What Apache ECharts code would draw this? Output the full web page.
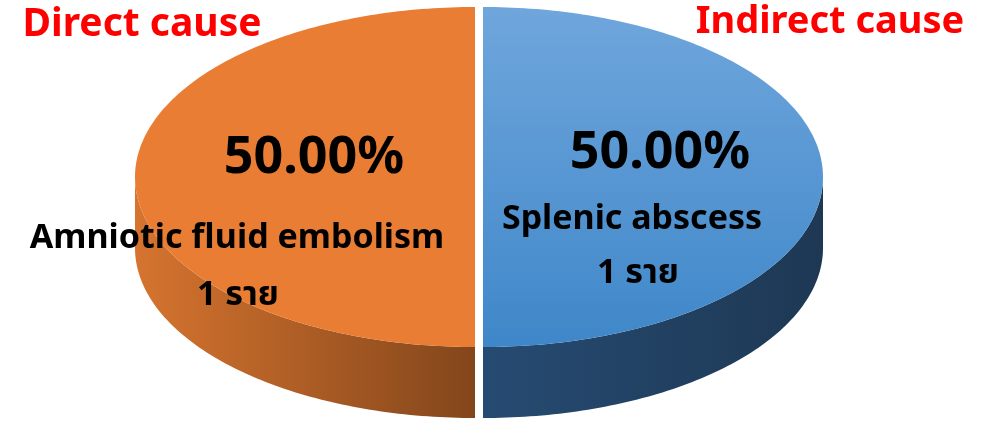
<!DOCTYPE html>
<html>
<head>
<meta charset="utf-8">
<script src="https://cdn.jsdelivr.net/npm/echarts@6/dist/echarts.min.js"></script>
<style>
html, body { margin: 0; background: #fff; }
#chart { width: 993px; height: 422px; }
</style>
</head>
<body>
<div id="chart"></div>
<script>
var causes = ['Direct cause', 'Indirect cause'];
var diseases = ['Amniotic fluid embolism', 'Splenic abscess'];
var counts = [1, 1];
var unit = 'ราย';

var topFill = [
    '#EA7D34',
    { type: 'linear', x: 0, y: 0, x2: 0, y2: 1, colorStops: [{ offset: 0, color: '#6FA6DC' }, { offset: 1, color: '#3F87C9' }] }
];
var sideFill = [
    { type: 'linear', x: 0, y: 0, x2: 1, y2: 0, colorStops: [{ offset: 0, color: '#D6742F' }, { offset: 1, color: '#83461B' }] },
    { type: 'linear', x: 0, y: 0, x2: 1, y2: 0, colorStops: [{ offset: 0, color: '#264B72' }, { offset: 1, color: '#1E3854' }] }
];

var font = '"Noto Sans", "Noto Sans Thai", "DejaVu Sans", sans-serif';
var chart = echarts.init(document.getElementById('chart'));

var total = counts.reduce(function (a, b) { return a + b; }, 0);

// pie geometry (tilted ellipse)
var cx = 479, cy = 177, rx = 340, ry = 170, depth = 71, explode = 4;

function pt(ox, oy, deg, down) {
    var r = deg * Math.PI / 180;
    return [ox + rx * Math.cos(r), oy - ry * Math.sin(r) + (down || 0)];
}

function renderSlice(params, api) {
    var i = params.dataIndex;
    var before = 0;
    for (var k = 0; k < i; k++) before += counts[k];
    var a0 = 90 + before / total * 360;
    var a1 = a0 + api.value(0) / total * 360;
    var mid = (a0 + a1) / 2 * Math.PI / 180;
    var ox = cx + explode * Math.cos(mid);
    var oy = cy - explode * Math.sin(mid);
    var children = [];

    // front side wall, only where it faces the viewer
    [[180, 360], [540, 720]].forEach(function (w) {
        var s = Math.max(a0, w[0]), e = Math.min(a1, w[1]);
        if (e <= s) return;
        var pts = [];
        for (var t = s; t <= e + 0.001; t += 1) pts.push(pt(ox, oy, t));
        for (var t2 = e; t2 >= s - 0.001; t2 -= 1) pts.push(pt(ox, oy, t2, depth));
        children.push({ type: 'polygon', shape: { points: pts }, style: { fill: sideFill[i] } });
    });

    var top = [[ox, oy]];
    for (var t = a0; t <= a1 + 0.001; t += 1) top.push(pt(ox, oy, t));
    children.push({ type: 'polygon', shape: { points: top }, style: { fill: topFill[i] } });
    return { type: 'group', children: children };
}

function pct(v) { return (v / total * 100).toFixed(2) + '%'; }

function txt(x, y, s, size, color) {
    return {
        type: 'text', x: x, y: y, z: 100, silent: true,
        style: { text: s, fontSize: size, fontWeight: 'bold', fontFamily: font, fill: color, align: 'center', verticalAlign: 'middle' }
    };
}

chart.setOption({
    animation: false,
    series: [{
        type: 'custom',
        coordinateSystem: 'none',
        z: 1,
        renderItem: renderSlice,
        data: counts.map(function (v, i) { return { name: diseases[i], value: [v] }; })
    }],
    graphic: [
        txt(142, 25, causes[0], 39, '#FF0000'),
        txt(830, 22, causes[1], 38, '#FF0000'),
        txt(314, 158, pct(counts[0]), 52, '#000'),
        txt(660, 153, pct(counts[1]), 52, '#000'),
        txt(237, 238, diseases[0], 34, '#000'),
        txt(238, 295, counts[0] + ' ' + unit, 34, '#000'),
        txt(632, 219, diseases[1], 34, '#000'),
        txt(638, 273, counts[1] + ' ' + unit, 34, '#000')
    ]
});
</script>
</body>
</html>
